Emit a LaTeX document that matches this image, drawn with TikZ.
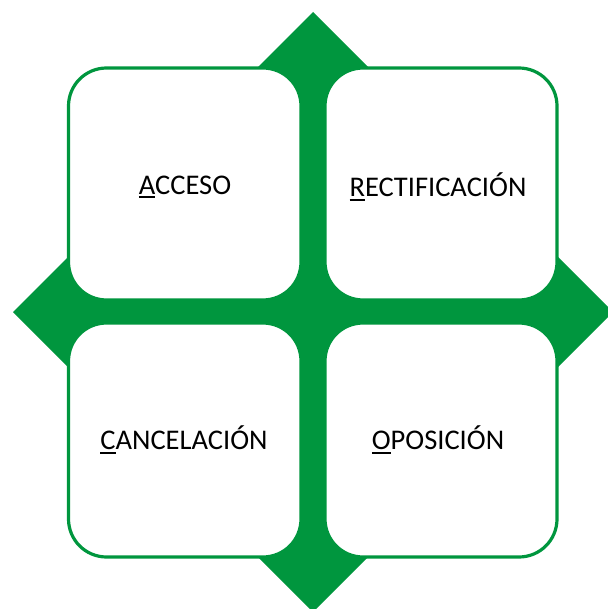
\documentclass[tikz,border=0pt]{standalone}
\usepackage{fontspec}
\setmainfont{Carlito}
\definecolor{grn}{RGB}{0,150,62}
\tikzset{
  card/.style={draw=grn, fill=white, line width=3.2pt, rounded corners=38pt},
  lbl/.style={font=\fontsize{28.5}{32}\selectfont, text=black}
}
\newcommand{\firstul}[1]{\setbox0\hbox{#1}\rlap{\rule[-4pt]{\wd0}{2pt}}#1}
\begin{document}
\begin{tikzpicture}[x=1pt,y=-1pt]
\useasboundingbox (0,0) rectangle (607,609);
\fill[grn] (313,12) -- (613,312) -- (313,612) -- (13,312) -- cycle;
\draw[card] (68.5,68) rectangle (301,300);
\draw[card] (325,68) rectangle (557,300);
\draw[card] (68.5,323) rectangle (301,557);
\draw[card] (325,323) rectangle (557,557);
\node[lbl] (a) at (185,187) {\firstul{A}CCESO};
\node[lbl] (r) at (438,187) {\firstul{R}ECTIFICACIÓN};
\node[lbl] (c) at (184,440) {\firstul{C}ANCELACIÓN};
\node[lbl] (o) at (438,440) {\firstul{O}POSICIÓN};
\end{tikzpicture}
\end{document}
